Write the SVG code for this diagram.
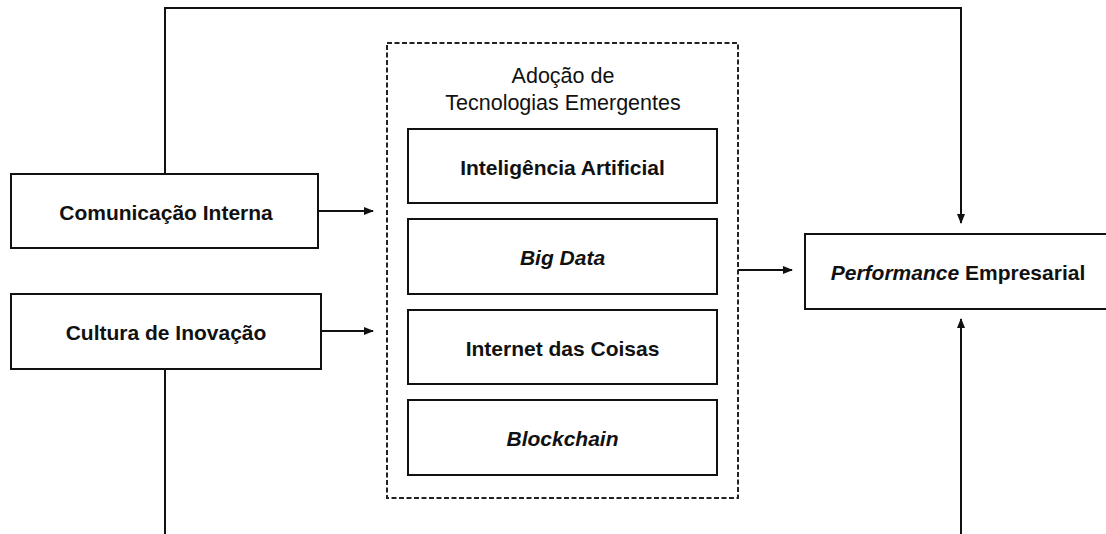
<svg xmlns="http://www.w3.org/2000/svg" width="1106" height="534" viewBox="0 0 1106 534">
<defs>
<marker id="ah" markerWidth="10" markerHeight="8" refX="9" refY="4" orient="auto" markerUnits="userSpaceOnUse">
<path d="M0,0 L10,4 L0,8 Z" fill="#111"/>
</marker>
<style>
.box{fill:#fff;stroke:#111;stroke-width:2}
.dash{fill:none;stroke:#222;stroke-width:2;stroke-dasharray:5,2.5}
.conn{fill:none;stroke:#111;stroke-width:2}
.t{font-family:"Liberation Sans",Arial,sans-serif;font-size:21px;font-weight:bold;fill:#111;text-anchor:middle;dominant-baseline:central}
.h{font-family:"Liberation Sans",Arial,sans-serif;font-size:21.5px;fill:#111;text-anchor:middle}
</style>
</defs>
<rect width="1106" height="534" fill="#fff"/>
<g id="connectors">
<polyline class="conn" points="165,174 165,8 961,8 961,223" marker-end="url(#ah)"/>
<line class="conn" x1="165" y1="369" x2="165" y2="534"/>
<line class="conn" x1="961" y1="534" x2="961" y2="319" marker-end="url(#ah)"/>
<line class="conn" x1="318" y1="211" x2="373" y2="211" marker-end="url(#ah)"/>
<line class="conn" x1="321" y1="331" x2="373" y2="331" marker-end="url(#ah)"/>
<line class="conn" x1="738" y1="270" x2="792" y2="270" marker-end="url(#ah)"/>
</g>
<g id="comunicacao">
<rect class="box" x="11" y="174" width="307" height="74"/>
<text class="t" x="166" y="212">Comunicação Interna</text>
</g>
<g id="cultura">
<rect class="box" x="11" y="294" width="310" height="75"/>
<text class="t" x="166" y="332">Cultura de Inovação</text>
</g>
<g id="adocao">
<rect class="dash" x="387" y="43" width="351" height="455"/>
<text class="h" x="563" y="83">Adoção de</text>
<text class="h" x="563" y="110">Tecnologias Emergentes</text>
</g>
<g id="ia">
<rect class="box" x="408" y="129" width="309" height="74"/>
<text class="t" x="562.5" y="167">Inteligência Artificial</text>
</g>
<g id="bigdata">
<rect class="box" x="408" y="219" width="309" height="75"/>
<text class="t" x="562.5" y="257" font-style="italic">Big Data</text>
</g>
<g id="iot">
<rect class="box" x="408" y="310" width="309" height="74"/>
<text class="t" x="562.5" y="348">Internet das Coisas</text>
</g>
<g id="blockchain">
<rect class="box" x="408" y="400" width="309" height="75"/>
<text class="t" x="562.5" y="438" font-style="italic">Blockchain</text>
</g>
<g id="performance">
<rect class="box" x="805" y="234" width="310" height="75"/>
<text class="t" x="958" y="272"><tspan font-style="italic">Performance</tspan> Empresarial</text>
</g>
</svg>
